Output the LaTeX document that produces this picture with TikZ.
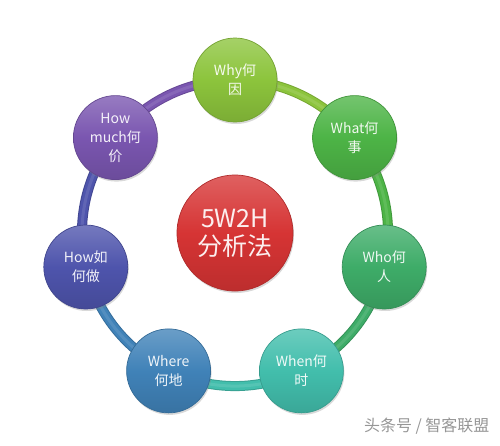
\documentclass[tikz,border=0pt]{standalone}
\usepackage{fontspec}
\setmainfont{Noto Sans CJK SC}
\usetikzlibrary{shadows,backgrounds}
\definecolor{cwhy}{RGB}{140,196,60}
\definecolor{cwhat}{RGB}{77,180,70}
\definecolor{cwho}{RGB}{62,172,104}
\definecolor{cwhen}{RGB}{66,190,172}
\definecolor{cwhere}{RGB}{64,130,184}
\definecolor{chow}{RGB}{78,84,172}
\definecolor{cmuch}{RGB}{122,86,176}
\definecolor{ccenter}{RGB}{214,52,52}
\definecolor{cmark}{RGB}{150,150,150}
\begin{document}
\begin{tikzpicture}[x=1pt,y=-1pt,
  ball/.style={circle, minimum size=84pt, inner sep=0pt, align=center,
    top color=#1!78!white, bottom color=#1!88!black, middle color=#1,
    draw=#1!82!black, line width=0.7pt,
    drop shadow={opacity=0.3, shadow xshift=1pt, shadow yshift=-2pt},
    text=white!92!#1, font=\fontsize{14}{19}\selectfont},
  ringbase/.style={line width=10pt, draw=#1!85!black, bend left=25.7, looseness=0.9},
  ringmid/.style={line width=8pt, draw=#1, bend left=25.7, looseness=0.9},
  ringhi/.style={line width=3pt, draw=#1!70!white, draw opacity=0.35, bend left=25.7, looseness=0.9}]
\useasboundingbox (0,0) rectangle (500,445);
\node[ball=ccenter, minimum size=116pt, font=\fontsize{25}{28}\selectfont] (c) at (235,233) {5W2H\\分析法};
\node[ball=cwhy] (why) at (235,80) {Why何\\因};
\node[ball=cwhat] (what) at (354.6,137.6) {What何\\事};
\node[ball=cwho] (who) at (384.2,267) {Who何\\人};
\node[ball=cwhen] (when) at (301.4,370.9) {When何\\时};
\node[ball=cwhere] (where) at (168.6,370.9) {Where\\何地};
\node[ball=chow] (how) at (85.8,267) {How如\\何做};
\node[ball=cmuch] (much) at (115.4,137.6) {How\\much何\\价};
\node[anchor=east, text=cmark, font=\fontsize{16}{16}\selectfont] (mark) at (493,426) {头条号 / 智客联盟};
\begin{scope}[on background layer]
\foreach \a/\b/\col in {why/what/cwhy, what/who/cwhat, who/when/cwho, when/where/cwhen, where/how/cwhere, how/much/chow, much/why/cmuch}{
  \draw[ringbase=\col] (\a.center) to (\b.center);
  \draw[ringmid=\col] (\a.center) to (\b.center);
  \draw[ringhi=\col] (\a.center) to (\b.center);
}
\end{scope}
\end{tikzpicture}
\end{document}
